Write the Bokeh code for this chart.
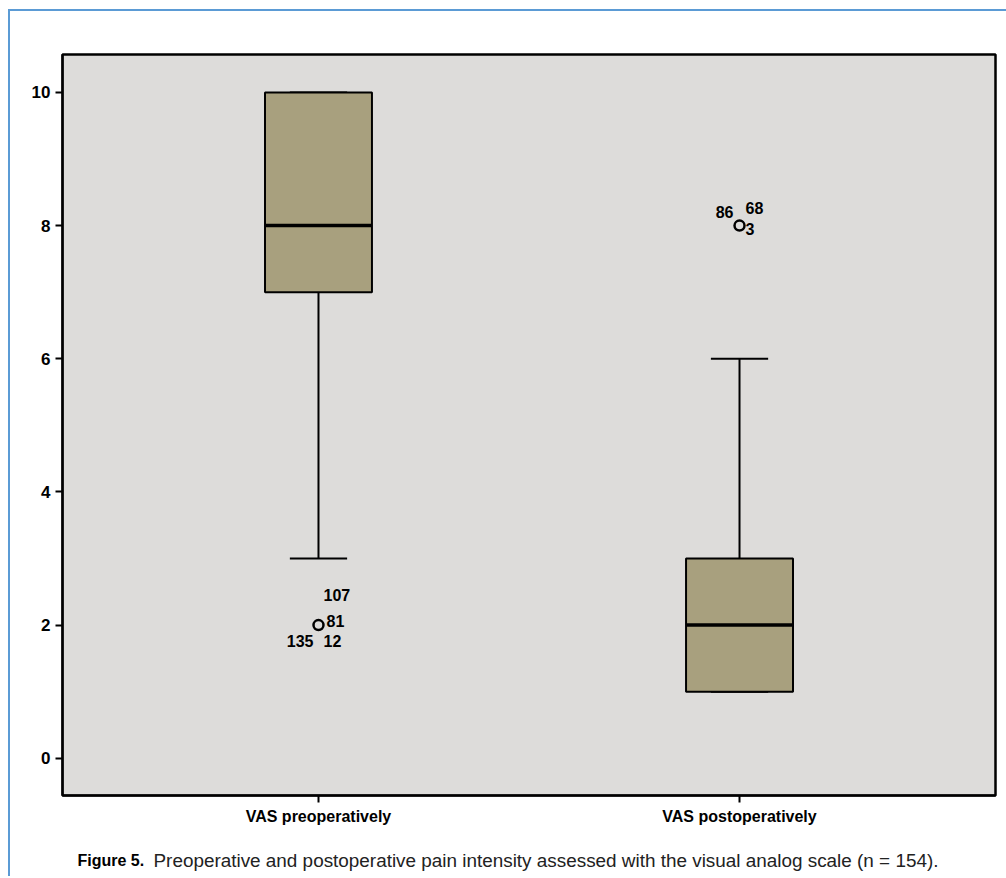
from bokeh.plotting import figure
from bokeh.layouts import column
from bokeh.models import Range1d, FixedTicker, Label, ColumnDataSource
from bokeh.core.properties import value
from bokeh.embed import file_html
from bokeh.resources import INLINE

# ---------------- data ----------------
categories = ["VAS preoperatively", "VAS postoperatively"]
q1 = [7, 1]
median = [8, 2]
q3 = [10, 3]
whisker_low = [3, 1]
whisker_high = [10, 6]
outlier_values = [2, 8]
outlier_ids = [["107", "81", "135", "12"], ["86", "68", "3"]]
y_ticks = [0, 2, 4, 6, 8, 10]
caption_bold = "Figure 5."
caption_text = "Preoperative and postoperative pain intensity assessed with the visual analog scale (n = 154)."

# ---------------- styles ----------------
label_dx = [[5, 8, -5, 5], [-6, 6, 6]]
label_dy = [[-30, -4, 16, 16], [-14, -18, 3]]
label_align = [["left", "left", "right", "left"], ["right", "left", "left"]]

BOX_FILL = "#A8A07E"
BG = "#DDDCDA"
BLUE = "#5B9BD5"
BOX_W = 0.254
CAP_W = 0.136
FONT = "Liberation Sans, Arial, sans-serif"

positions = [i + 1 for i in range(len(categories))]

p = figure(width=996, height=829, output_backend="svg", toolbar_location=None,
           x_range=Range1d(0.392, 2.608), y_range=Range1d(-0.56, 10.57),
           min_border_left=52, min_border_right=11, min_border_top=43,
           min_border_bottom=45)
p.background_fill_color = BG
p.border_fill_color = "white"
p.outline_line_color = "black"
p.outline_line_width = 2.5
p.xgrid.visible = False
p.ygrid.visible = False

# whiskers
p.segment(x0=positions, x1=positions, y0=q3, y1=whisker_high, line_color="black", line_width=2)
p.segment(x0=positions, x1=positions, y0=q1, y1=whisker_low, line_color="black", line_width=2)
p.segment(x0=[x - CAP_W / 2 for x in positions], x1=[x + CAP_W / 2 for x in positions],
          y0=whisker_high, y1=whisker_high, line_color="black", line_width=2)
p.segment(x0=[x - CAP_W / 2 for x in positions], x1=[x + CAP_W / 2 for x in positions],
          y0=whisker_low, y1=whisker_low, line_color="black", line_width=2)

# boxes
p.vbar(x=positions, width=BOX_W, bottom=q1, top=q3, fill_color=BOX_FILL,
       line_color="black", line_width=2)
# medians
p.segment(x0=[x - BOX_W / 2 for x in positions], x1=[x + BOX_W / 2 for x in positions],
          y0=median, y1=median, line_color="black", line_width=3.5)

# outliers
p.scatter(x=positions, y=outlier_values, marker="circle", size=10, fill_color=None,
          line_color="black", line_width=2.5)

lx, ly, lt, ldx, ldy, lal = [], [], [], [], [], []
for i, ids in enumerate(outlier_ids):
    for j, t in enumerate(ids):
        lx.append(positions[i]); ly.append(outlier_values[i]); lt.append(t)
        ldx.append(label_dx[i][j]); ldy.append(label_dy[i][j]); lal.append(label_align[i][j])
src = ColumnDataSource(dict(x=lx, y=ly, text=lt, dx=ldx, dy=ldy, align=lal))
p.text(x="x", y="y", text="text", x_offset="dx", y_offset="dy", text_align="align",
       source=src, text_baseline="middle", text_font=value(FONT), text_font_style="bold",
       text_font_size="16px", text_color="black")

# axes
p.yaxis.ticker = FixedTicker(ticks=y_ticks)
p.xaxis.ticker = FixedTicker(ticks=positions)
p.xaxis.major_label_overrides = {pos: c for pos, c in zip(positions, categories)}
for ax in (p.xaxis, p.yaxis):
    ax.axis_line_width = 2
    ax.axis_line_color = "black"
    ax.major_tick_out = 7
    ax.major_tick_in = 0
    ax.major_tick_line_width = 2
    ax.minor_tick_line_color = None
    ax.major_label_text_font = FONT
    ax.major_label_text_font_style = "bold"
    ax.major_label_text_color = "black"
    ax.major_label_standoff = 5
p.yaxis.major_label_text_font_size = "17px"
p.xaxis.major_label_text_font_size = "16px"

# caption strip (its frame gets aligned with the main plot's frame in the column)
cap = figure(width=996, height=36, output_backend="svg", toolbar_location=None,
             x_axis_type=None, y_axis_type=None,
             x_range=Range1d(0, 996), y_range=Range1d(0, 36),
             min_border_left=0, min_border_right=0, min_border_top=0, min_border_bottom=0)
cap.grid.visible = False
cap.outline_line_color = None
cap.background_fill_color = "white"
cap.border_fill_color = "white"
cap.add_layout(Label(x=15, y=16, x_units="screen", y_units="screen", text=caption_bold,
                     text_baseline="middle", text_font=FONT,
                     text_font_style="bold", text_font_size="16px", text_color="black"))
cap.add_layout(Label(x=91, y=16, x_units="screen", y_units="screen", text=caption_text,
                     text_baseline="middle", text_font=FONT,
                     text_font_size="18.9px", text_color="#222222"))

layout = column(p, cap, spacing=0,
                styles={"margin-left": "8px", "margin-top": "9px",
                        "border-left": f"2px solid {BLUE}",
                        "border-top": f"2px solid {BLUE}"})

open("out.html", "w").write(file_html(layout, INLINE))
